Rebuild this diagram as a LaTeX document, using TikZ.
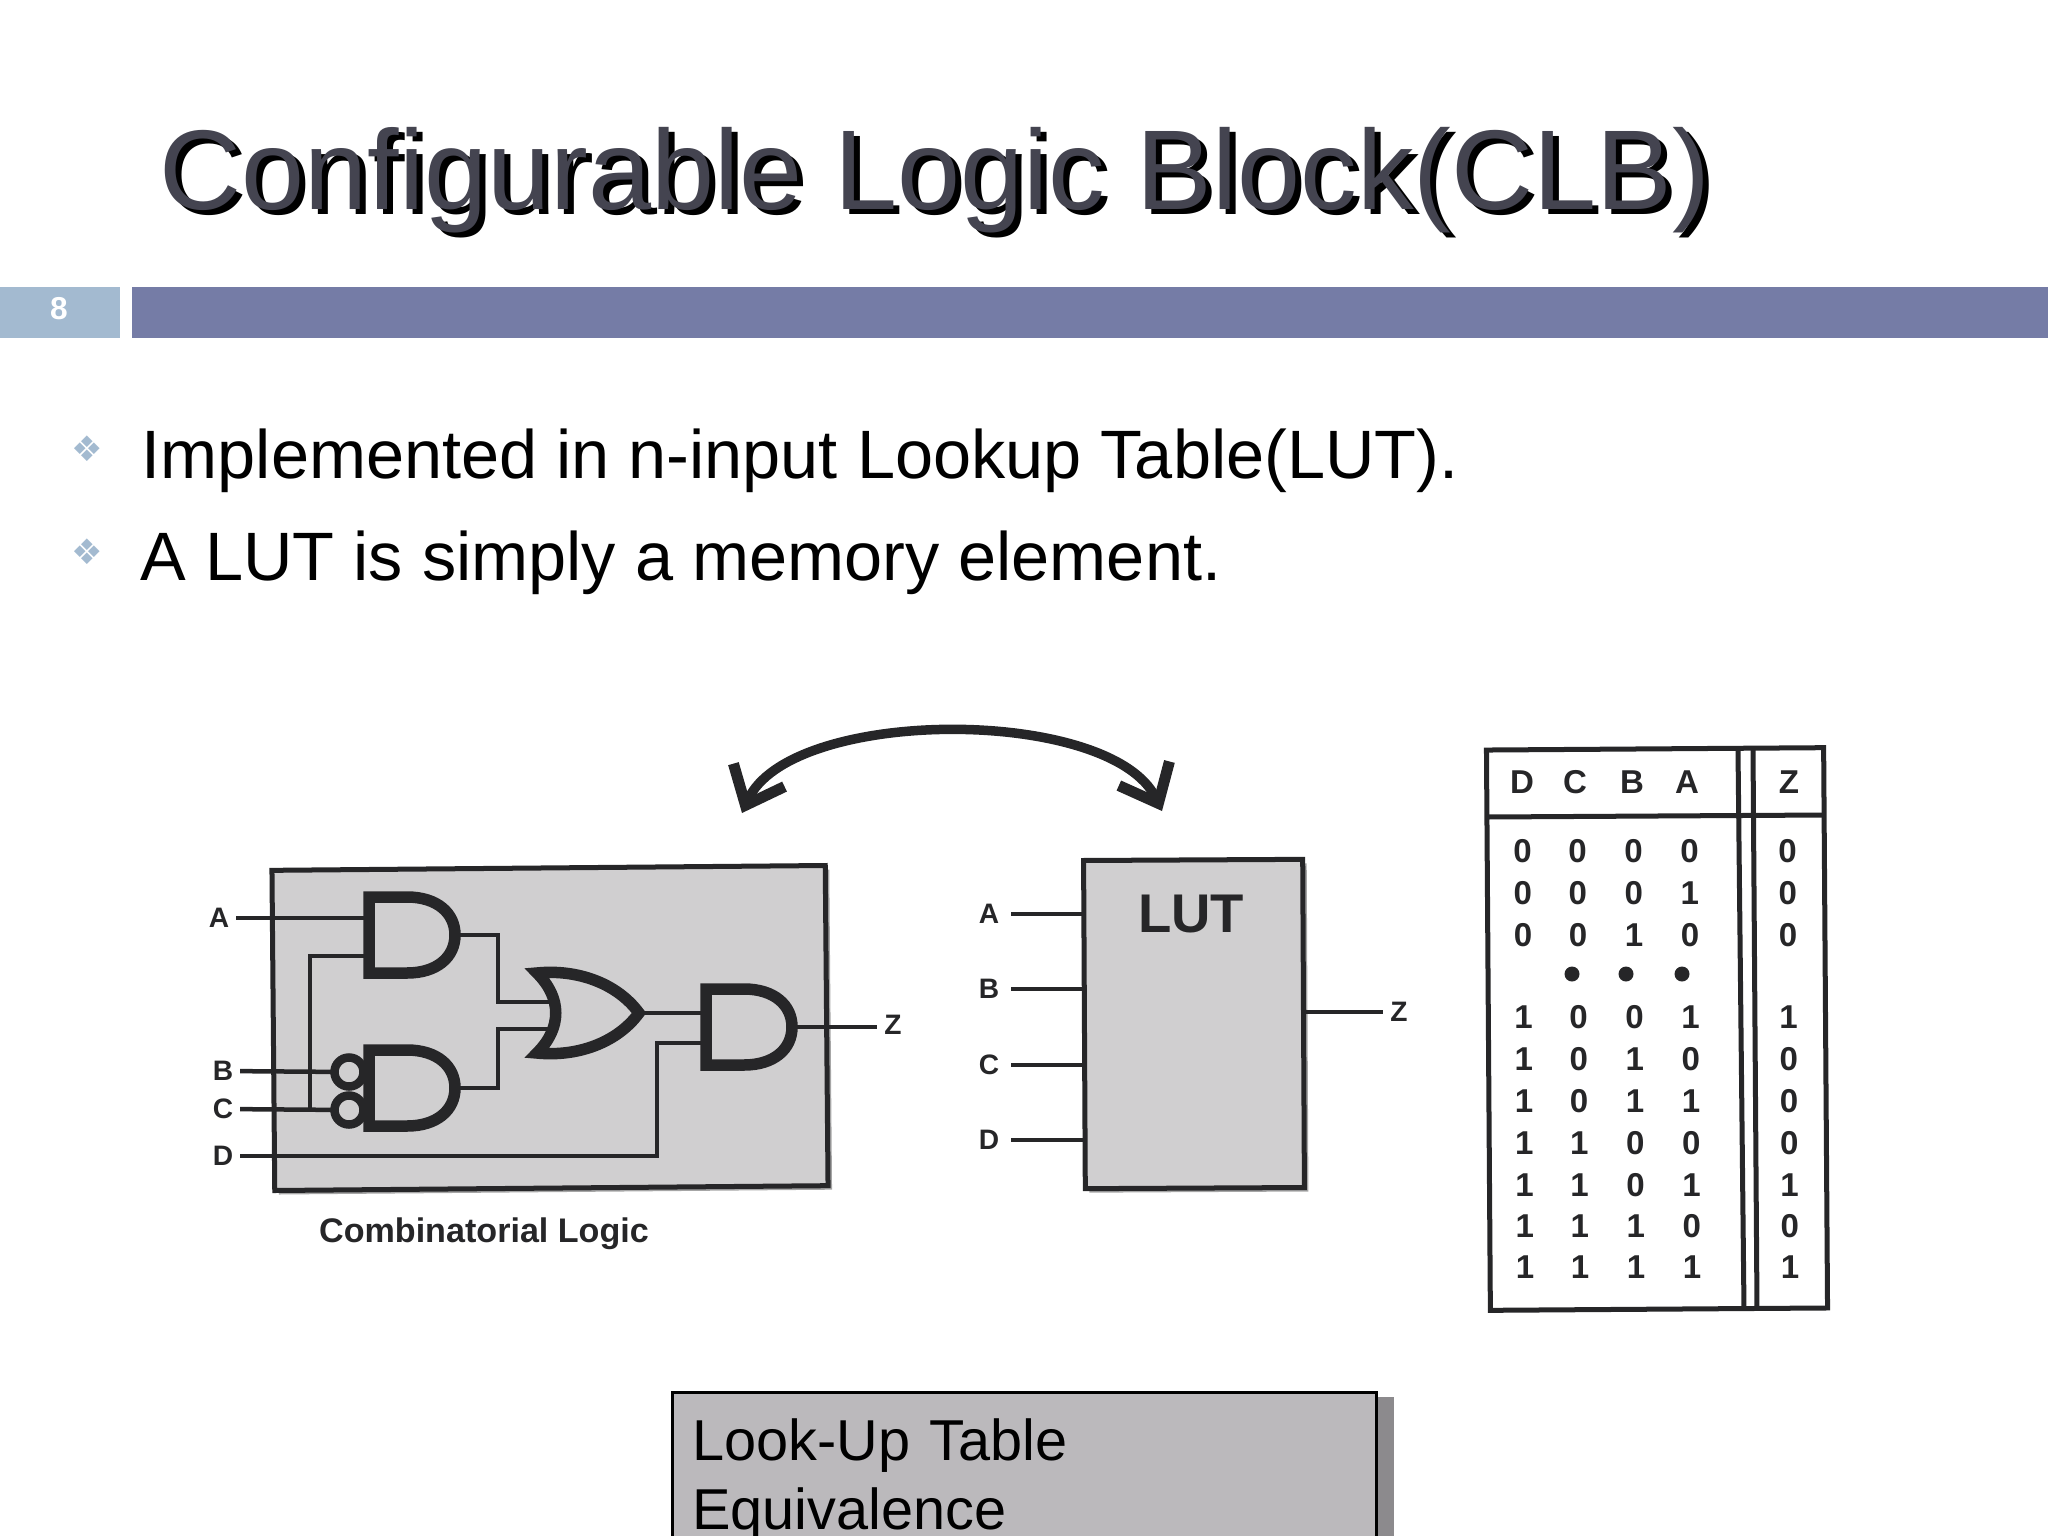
\documentclass[tikz,border=0pt]{standalone}
\usepackage{xcolor}
\usepackage{fontspec}
\setmainfont{Liberation Sans}
\setsansfont{Liberation Sans}
\newfontfamily\symfont{DejaVu Sans}
\usepackage{tikz}
\usetikzlibrary{arrows.meta,shadows}
\definecolor{BarBlue}{RGB}{117,124,166}
\definecolor{TabBlue}{RGB}{163,186,208}
\definecolor{TitleGray}{RGB}{68,68,80}
\definecolor{NoteGray}{RGB}{187,185,188}
\definecolor{NoteShade}{RGB}{140,138,141}
\definecolor{ScanGray}{RGB}{208,207,208}
\definecolor{InkGray}{RGB}{38,38,40}
\tikzset{
  titletxt/.style={anchor=base west, inner sep=0pt, font=\fontsize{32.25pt}{36pt}\selectfont},
  bodytxt/.style={anchor=base west, inner sep=0pt, font=\fontsize{19.47pt}{23pt}\selectfont},
  bullet/.style={inner sep=0pt, text=TabBlue, font=\symfont\fontsize{10pt}{12pt}\selectfont},
  bartab/.style={fill=TabBlue, inner sep=0pt, minimum height=0.51cm, anchor=north west},
  scanbox/.style={draw=InkGray, line width=0.05cm, fill=ScanGray, inner sep=0pt,
    drop shadow={shadow xshift=0.04cm, shadow yshift=-0.04cm, fill=gray!70, opacity=1}},
  pinlab/.style={inner sep=0pt, outer sep=0.07cm, text=InkGray, font=\fontsize{8pt}{10pt}\selectfont\bfseries},
  lutlab/.style={pinlab, outer sep=0.12cm},
  cell/.style={inner sep=0pt, text=InkGray, font=\fontsize{9.4pt}{11pt}\selectfont\bfseries},
  wire/.style={draw=InkGray, line width=0.045cm},
  gate/.style={draw=InkGray, line width=0.115cm, miter limit=4},
  gatebox/.style={inner sep=0pt, outer sep=0pt, minimum width=0.96cm, minimum height=0.86cm},
  orbox/.style={inner sep=0pt, outer sep=0pt, minimum width=1.16cm, minimum height=0.9cm},
  bubble/.style={circle, draw=InkGray, line width=0.085cm, inner sep=0pt, outer sep=0pt, minimum size=0.29cm},
  tabline/.style={draw=InkGray, line width=0.05cm},
  swaparr/.style={{Straight Barb[length=0.33cm,width=0.56cm,line width=0.11cm]}-{Straight Barb[length=0.33cm,width=0.56cm,line width=0.11cm]},
    draw=InkGray, line width=0.095cm},
}
\def\tabx#1#2{#1+0.006*(#2-750)}
\newcommand{\andgate}[3]{%
  \node[gatebox] (#1) at (#2,#3) {};
  \draw[gate, shift={(#2,#3)}] (-43,-38) -- (-5,-38) .. controls (25,-38) and (43,-22) .. (43,0)
    .. controls (43,22) and (25,38) .. (-5,38) -- (-43,38) -- cycle;}
\newcommand{\orgate}[3]{%
  \node[orbox] (#1) at (#2,#3) {};
  \draw[gate, shift={(#2,#3)}] (-50,-40) .. controls (-10,-44) and (30,-30) .. (52,0)
    .. controls (30,30) and (-10,44) .. (-50,40) .. controls (-25,15) and (-25,-15) .. (-50,-40) -- cycle;}
\begin{document}
\begin{tikzpicture}[x=0.01cm, y=-0.01cm]
  \useasboundingbox (0,0) rectangle (2048,1536);
  \node[titletxt, text=black] (titleshade) at (165,214) {Configurable Logic Block(CLB)};
  \node[titletxt, text=TitleGray] (title) at (159,209) {Configurable Logic Block(CLB)};
  \node[bartab, minimum width=1.21cm] (pagetab) at (-2,286) {};
  \node[inner sep=0pt, text=white, font=\fontsize{9pt}{11pt}\selectfont\bfseries] (pageno) at (59,309) {8};
  \node[bartab, minimum width=19.18cm, fill=BarBlue] (bar) at (131,286) {};

  \node[bullet] (bul1) at (87,449) {❖};
  \node[bullet] (bul2) at (87,552) {❖};
  \node[bodytxt] (line1) at (141,478) {Implemented in n-input Lookup Table(LUT).};
  \node[bodytxt] (line2) at (140,580) {A LUT is simply a memory element.};

  \node[scanbox, minimum width=5.53cm, minimum height=3.2cm, rotate=0.5] (comb) at (550,1028) {};
  \andgate{and1}{412}{935}
  \andgate{and2}{412}{1088}
  \orgate{or1}{587}{1013}
  \andgate{and3}{749}{1027}
  \node[bubble] (bubB) at (349,1072) {};
  \node[bubble] (bubC) at (349,1110) {};
  \node[pinlab] (inA) at (219,918) {A};
  \node[pinlab] (inB) at (223,1071) {B};
  \node[pinlab] (inC) at (223,1109) {C};
  \node[pinlab] (inD) at (223,1156) {D};
  \node[pinlab] (outZ) at (893,1025) {Z};
  \node[pinlab, font=\fontsize{9.7pt}{11pt}\selectfont\bfseries] (combcap) at (484,1234) {Combinatorial Logic};
  \coordinate (tapA) at (364,956);
  \coordinate (tapC) at (310,1110);
  \coordinate (turnD) at (657,1156);
  \coordinate (inD3) at (702,1043);
  \coordinate (inO1) at (552,1002);
  \coordinate (inO2) at (552,1029);
  \draw[wire] (inA) -- (inA -| and1.west);
  \draw[wire] (inB) -- (bubB);
  \draw[wire] (inC) -- (bubC);
  \draw[wire] (tapA) -| (tapC);
  \draw[wire] (inD) -- (turnD) |- (inD3);
  \draw[wire] (and1.east) -| (498,1002) -- (inO1);
  \draw[wire] (and2.east) -| (498,1029) -- (inO2);
  \draw[wire] (or1.east) -- (or1.east -| and3.west);
  \draw[wire] (and3.east) -- (and3.east -| outZ.west);

  \node[scanbox, minimum width=2.19cm, minimum height=3.28cm, rotate=0.3] (lut) at (1194,1024) {};
  \node[pinlab, font=\fontsize{15.5pt}{18pt}\selectfont\bfseries] (luttxt) at (1191,914) {LUT};
  \foreach \n/\y in {A/914,B/989,C/1065,D/1140} {
    \node[lutlab] (lut\n) at (989,\y) {\n};
    \coordinate (pin\n) at (1084,\y);
    \draw[wire] (lut\n) -- (pin\n);
  }
  \node[pinlab] (lutZ) at (1399,1012) {Z};
  \coordinate (pinZ) at (1306,1012);
  \draw[wire] (pinZ) -- (lutZ);

  \coordinate (arrL) at (742,813);
  \coordinate (arrR) at (1162,811);
  \draw[swaparr] (arrL) .. controls (790,706) and (1112,706) .. (arrR);

  \node[draw=InkGray, line width=0.05cm, minimum width=3.37cm, minimum height=5.6cm, inner sep=0pt, rotate=0.4] (tbl) at (1657,1029) {};
  \draw[tabline] (1487,817) -- (1825,815);
  \draw[tabline] (1738,750) -- (1744,1310);
  \draw[tabline] (1753,749) -- (1757,1310);
  \foreach \n/\x in {D/1522,C/1575,B/1632,A/1687,Z/1789}
    \node[cell] (head\n) at (\x,782) {\n};
  \foreach \r/\y/\d/\c/\b/\a/\z in {0/851/0/0/0/0/0,1/893/0/0/0/1/0,2/935/0/0/1/0/0,
      4/1017/1/0/0/1/1,5/1059/1/0/1/0/0,6/1101/1/0/1/1/0,7/1143/1/1/0/0/0,
      8/1185/1/1/0/1/1,9/1226/1/1/1/0/0,10/1267/1/1/1/1/1} {
    \node[cell] (d\r) at ({\tabx{1522}{\y}},\y) {\d};
    \node[cell] (c\r) at ({\tabx{1577}{\y}},\y) {\c};
    \node[cell] (b\r) at ({\tabx{1633}{\y}},\y) {\b};
    \node[cell] (a\r) at ({\tabx{1689}{\y}},\y) {\a};
    \node[cell] (z\r) at ({\tabx{1787}{\y}},\y) {\z};
  }
  \foreach \k/\x in {1/1572,2/1626,3/1682}
    \node[circle, fill=InkGray, inner sep=0pt, minimum size=0.15cm] (dot\k) at (\x,974) {};

  \fill[NoteShade] (1377,1397) rectangle (1394,1536);
  \node[draw=black, line width=0.025cm, fill=NoteGray, anchor=north west,
    text width=6.64cm, inner xsep=0.2cm, inner ysep=0.26cm, align=left,
    font=\fontsize{16.4pt}{19.63pt}\selectfont] (note) at (671,1391) {Look-Up Table\\Equivalence};
\end{tikzpicture}
\end{document}
